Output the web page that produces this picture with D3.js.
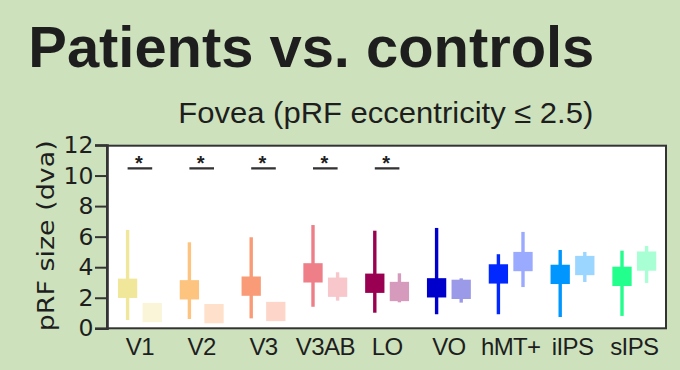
<!DOCTYPE html>
<html>
<head>
<meta charset="utf-8">
<script src="https://cdn.jsdelivr.net/npm/d3@7"></script>
<style>
  html, body { margin: 0; padding: 0; background: #cde2bc; }
  svg { display: block; }
</style>
</head>
<body>
<script>
// ---- data ----
const categories = ["V1", "V2", "V3", "V3AB", "LO", "VO", "hMT+", "iIPS", "sIPS"];
const patientMid = [2.62, 2.52, 2.76, 3.63, 2.95, 2.65, 3.56, 3.53, 3.40];
const patientLo  = [0.54, 0.61, 0.65, 1.41, 1.02, 0.92, 0.92, 0.74, 0.81];
const patientHi  = [6.44, 5.63, 5.96, 6.76, 6.39, 6.57, 4.85, 5.13, 5.08];
const controlMid = [1.03, 0.96, 1.10, 2.69, 2.41, 2.55, 4.37, 4.11, 4.40];
const controlLo  = [0.60, 0.55, 0.70, 1.81, 1.70, 1.68, 2.70, 3.03, 2.97];
const controlHi  = [1.45, 1.40, 1.50, 3.67, 3.60, 3.27, 6.31, 5.00, 5.39];
const significant = ["V1", "V2", "V3", "V3AB", "LO"];
const sigLevel = 10.47;
const yTicks = [0, 2, 4, 6, 8, 10, 12];
const groups = ["patient", "control"];
const patientColors = ["#f1e79a", "#fcc47f", "#f99b77", "#ee7f88", "#9a0052", "#0000cc", "#0028ff", "#0096ff", "#22ff8c"];
const controlColors = ["#faf5d8", "#fee0cb", "#fdd6c9", "#f7c7cc", "#d69abd", "#9a9ae8", "#9aaaff", "#9ad6ff", "#a8ffd4"];
const titleText = "Patients vs. controls";
const subtitleText = "Fovea (pRF eccentricity \u2264 2.5)";
const yTitleText = "pRF size (dva)";

// ---- layout ----
const W = 680, H = 370;
const plot = { left: 107, right: 666, top: 145.7, bottom: 328.3 };
const textColor = "#1e1e1e";
const frameColor = "#333";
const markerSize = 19.3;
const whiskerWidth = 3.4;

const svg = d3.select("body").append("svg").attr("width", W).attr("height", H);
svg.append("rect").attr("width", W).attr("height", H).attr("fill", "#cde2bc");

// titles
svg.append("text")
  .attr("x", 28.3).attr("y", 67.3)
  .attr("font-family", "Liberation Sans, Arial, sans-serif")
  .attr("font-weight", "bold").attr("font-size", 57)
  .attr("textLength", 566).attr("lengthAdjust", "spacingAndGlyphs")
  .attr("fill", textColor).text(titleText);

svg.append("text")
  .attr("x", 178.3).attr("y", 123.3)
  .attr("font-family", "Liberation Sans, Arial, sans-serif")
  .attr("font-size", 30)
  .attr("textLength", 415).attr("lengthAdjust", "spacingAndGlyphs")
  .attr("fill", textColor).text(subtitleText);

// scales
const x = d3.scaleBand().domain(categories).range([109, 665.2]);
const xg = d3.scalePoint().domain(groups).range([-12.3, 12.3]);
const y = d3.scaleLinear().domain([0, 12]).range([plot.bottom, 145]);

// plot area
svg.append("rect")
  .attr("x", plot.left).attr("y", plot.top)
  .attr("width", plot.right - plot.left).attr("height", plot.bottom - plot.top)
  .attr("fill", "#fff").attr("stroke", frameColor).attr("stroke-width", 2);

// y axis
const yAxis = svg.append("g")
  .attr("transform", `translate(${plot.left},0)`)
  .call(d3.axisLeft(y).tickValues(yTicks).tickSize(12).tickPadding(1.5).tickFormat(d3.format("d")));
yAxis.select(".domain").attr("stroke", frameColor).attr("stroke-width", 2.6);
yAxis.selectAll(".tick line").attr("stroke", frameColor).attr("stroke-width", 2);
yAxis.selectAll(".tick text")
  .attr("font-family", "DejaVu Sans, sans-serif").attr("font-size", 23.5)
  .attr("fill", textColor);

// y title
svg.append("text")
  .attr("transform", `translate(54,${(140 + 331.7) / 2}) rotate(-90)`)
  .attr("text-anchor", "middle")
  .attr("font-family", "DejaVu Sans, sans-serif").attr("font-size", 23.5)
  .attr("textLength", 191).attr("lengthAdjust", "spacingAndGlyphs")
  .attr("fill", textColor).text(yTitleText);

// x axis labels
const xAxis = svg.append("g")
  .attr("transform", `translate(0,${plot.bottom})`)
  .call(d3.axisBottom(x).tickSize(0).tickPadding(0));
xAxis.select(".domain").remove();
xAxis.selectAll(".tick text")
  .attr("y", 26.4).attr("dy", 0)
  .attr("font-family", "Liberation Sans, Arial, sans-serif").attr("font-size", 24)
  .attr("letter-spacing", -0.6)
  .attr("fill", textColor);

// data rows
const rows = [];
categories.forEach((c, i) => {
  rows.push({ cat: c, group: "patient", mid: patientMid[i], lo: patientLo[i], hi: patientHi[i], color: patientColors[i] });
  rows.push({ cat: c, group: "control", mid: controlMid[i], lo: controlLo[i], hi: controlHi[i], color: controlColors[i] });
});
const cx = d => x(d.cat) + x.bandwidth() / 2 + xg(d.group);

const marks = svg.append("g");
marks.selectAll("line.whisker").data(rows).join("line")
  .attr("class", "whisker")
  .attr("x1", cx).attr("x2", cx)
  .attr("y1", d => y(d.lo)).attr("y2", d => y(d.hi))
  .attr("stroke", d => d.color).attr("stroke-width", whiskerWidth);
marks.selectAll("rect.marker").data(rows).join("rect")
  .attr("class", "marker")
  .attr("x", d => cx(d) - markerSize / 2)
  .attr("y", d => y(d.mid) - markerSize / 2)
  .attr("width", markerSize).attr("height", markerSize)
  .attr("fill", d => d.color);

// significance
const sig = svg.append("g");
sig.selectAll("line").data(significant).join("line")
  .attr("x1", c => x(c) + x.bandwidth() / 2 + xg("patient"))
  .attr("x2", c => x(c) + x.bandwidth() / 2 + xg("control"))
  .attr("y1", y(sigLevel)).attr("y2", y(sigLevel))
  .attr("stroke", frameColor).attr("stroke-width", 2.3);
sig.selectAll("text").data(significant).join("text")
  .attr("x", c => x(c) + x.bandwidth() / 2 - 1)
  .attr("y", y(sigLevel) + 1.5)
  .attr("text-anchor", "middle")
  .attr("font-family", "Liberation Sans, Arial, sans-serif")
  .attr("font-weight", "bold").attr("font-size", 20)
  .attr("fill", textColor).text("*");
</script>
</body>
</html>
